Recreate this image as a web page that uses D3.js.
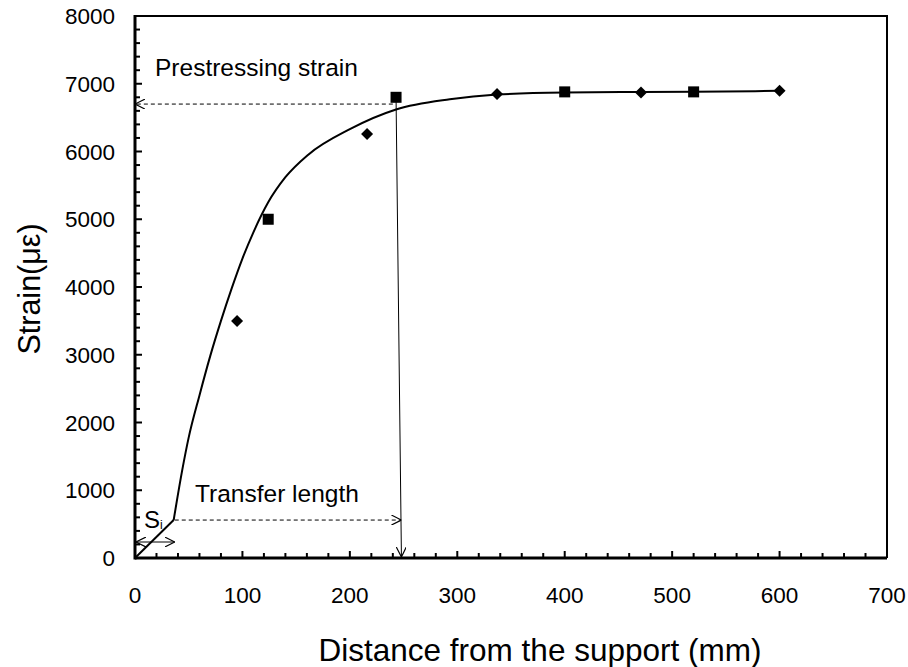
<!DOCTYPE html>
<html>
<head>
<meta charset="utf-8">
<script src="https://cdn.jsdelivr.net/npm/d3@7"></script>
<style>
  body { margin: 0; background: #fff; }
  text { font-family: "Liberation Sans", Arial, sans-serif; fill: #000; }
</style>
</head>
<body>
<div id="container"></div>
<script>
// measured points (mm, microstrain)
const diamondX = [95, 216, 337, 471, 600]
const diamondY = [3500, 6260, 6850, 6870, 6895]
const squareX = [124, 243, 400, 520]
const squareY = [5000, 6800, 6880, 6880]

// fitted strain profile (first segment is straight, rest smooth)
const curveX = [0, 36, 44, 50, 60, 70, 80, 90, 100, 110, 124, 140, 161, 200, 243, 293, 337, 400, 471, 520, 600]
const curveY = [0, 560, 1300, 1780, 2400, 2980, 3500, 3980, 4420, 4800, 5250, 5620, 5950, 6330, 6620, 6770, 6840, 6870, 6878, 6882, 6895]

// annotation values
const prestressStrain = 6700
const prestressEndX = 240
const transferLength = 248
const transferStartX = 37
const transferLevel = 560
const siLength = 37
const siLevel = 236

const xTicks = [0, 100, 200, 300, 400, 500, 600, 700]
const yTicks = [0, 1000, 2000, 3000, 4000, 5000, 6000, 7000, 8000]

const w = 908
const h = 667
const margin = { left: 135, right: 21, top: 16, bottom: 109 }

const svg = d3.select('#container')
  .append('svg')
  .attr('width', w)
  .attr('height', h)

const x = d3.scaleLinear().domain([0, 700]).range([margin.left, w - margin.right])
const y = d3.scaleLinear().domain([0, 8000]).range([h - margin.bottom, margin.top])

// open arrow head
const defs = svg.append('defs')
defs.append('marker')
  .attr('id', 'arr')
  .attr('viewBox', '0 0 10 10')
  .attr('refX', 10)
  .attr('refY', 5)
  .attr('markerWidth', 10)
  .attr('markerHeight', 10)
  .attr('markerUnits', 'userSpaceOnUse')
  .attr('orient', 'auto-start-reverse')
  .append('path')
  .attr('d', 'M0,0 L10,5 L0,10')
  .attr('fill', 'none')
  .attr('stroke', '#000')
  .attr('stroke-width', 1.2)

// frame (top/right)
svg.append('path')
  .attr('d', `M${x(0)},${y(8000)}H${x(700)}V${y(0)}`)
  .attr('fill', 'none')
  .attr('stroke', '#000')
  .attr('stroke-width', 2)

// minor + major ticks, pointing inward
const xMinor = d3.range(0, 701, 20)
svg.append('g').selectAll('line')
  .data(xMinor)
  .join('line')
  .attr('x1', d => x(d))
  .attr('x2', d => x(d))
  .attr('y1', y(0))
  .attr('y2', d => y(0) - (d % 100 === 0 ? 7 : 5))
  .attr('stroke', '#000')
  .attr('stroke-width', 2)

const yMinor = d3.range(0, 8001, 200)
svg.append('g').selectAll('line')
  .data(yMinor)
  .join('line')
  .attr('y1', d => y(d))
  .attr('y2', d => y(d))
  .attr('x1', x(0))
  .attr('x2', d => x(0) + (d % 1000 === 0 ? 7 : 5))
  .attr('stroke', '#000')
  .attr('stroke-width', 2)

// axis lines
svg.append('line')
  .attr('x1', x(0)).attr('x2', x(700))
  .attr('y1', y(0)).attr('y2', y(0))
  .attr('stroke', '#000').attr('stroke-width', 3)
svg.append('line')
  .attr('x1', x(0)).attr('x2', x(0))
  .attr('y1', y(0) + 1.5).attr('y2', y(8000) - 1)
  .attr('stroke', '#000').attr('stroke-width', 3)

// tick labels
svg.append('g').selectAll('text')
  .data(xTicks)
  .join('text')
  .attr('x', d => x(d))
  .attr('y', y(0) + 45)
  .attr('text-anchor', 'middle')
  .attr('font-size', 22.5)
  .text(d => d)

svg.append('g').selectAll('text')
  .data(yTicks)
  .join('text')
  .attr('x', x(0) - 20)
  .attr('y', d => y(d) + 8)
  .attr('text-anchor', 'end')
  .attr('font-size', 22.5)
  .text(d => d)

// axis titles
svg.append('text')
  .attr('x', 540)
  .attr('y', 661)
  .attr('text-anchor', 'middle')
  .attr('font-size', 31.5)
  .text('Distance from the support (mm)')

svg.append('text')
  .attr('transform', 'translate(40,289) rotate(-90)')
  .attr('text-anchor', 'middle')
  .attr('font-size', 30.5)
  .text('Strain(με)')

// fitted curve
const curveData = curveX.map((d, i) => [d, curveY[i]])
const line = d3.line().x(d => x(d[0])).y(d => y(d[1]))
svg.append('path')
  .datum(curveData.slice(0, 2))
  .attr('d', line)
  .attr('fill', 'none')
  .attr('stroke', '#000')
  .attr('stroke-width', 2)
svg.append('path')
  .datum(curveData.slice(1))
  .attr('d', line.curve(d3.curveMonotoneX))
  .attr('fill', 'none')
  .attr('stroke', '#000')
  .attr('stroke-width', 2)

// annotations
svg.append('line')
  .attr('x1', x(prestressEndX)).attr('x2', x(0))
  .attr('y1', y(prestressStrain)).attr('y2', y(prestressStrain))
  .attr('stroke', '#000').attr('stroke-width', 1)
  .attr('stroke-dasharray', '4,3')
  .attr('marker-end', 'url(#arr)')

svg.append('line')
  .attr('x1', x(squareX[1])).attr('x2', x(transferLength))
  .attr('y1', y(squareY[1])).attr('y2', y(0) - 1)
  .attr('stroke', '#000').attr('stroke-width', 1)
  .attr('marker-end', 'url(#arr)')

svg.append('line')
  .attr('x1', x(transferStartX)).attr('x2', x(transferLength))
  .attr('y1', y(transferLevel)).attr('y2', y(transferLevel))
  .attr('stroke', '#000').attr('stroke-width', 1)
  .attr('stroke-dasharray', '4,3')
  .attr('marker-end', 'url(#arr)')

svg.append('line')
  .attr('x1', x(0) + 1).attr('x2', x(siLength))
  .attr('y1', y(siLevel)).attr('y2', y(siLevel))
  .attr('stroke', '#000').attr('stroke-width', 1)
  .attr('marker-start', 'url(#arr)')
  .attr('marker-end', 'url(#arr)')

svg.append('text')
  .attr('x', 155).attr('y', 76)
  .attr('font-size', 24.5)
  .text('Prestressing strain')

svg.append('text')
  .attr('x', 195).attr('y', 502)
  .attr('font-size', 24.5)
  .text('Transfer length')

const si = svg.append('text')
  .attr('x', 144).attr('y', 528)
  .attr('font-size', 24)
si.append('tspan').text('S')
si.append('tspan').attr('font-size', 12).attr('dy', 1).text('i')

// markers
svg.append('g').selectAll('path')
  .data(diamondX.map((d, i) => [d, diamondY[i]]))
  .join('path')
  .attr('transform', d => `translate(${x(d[0])},${y(d[1])})`)
  .attr('d', 'M0,-6L6,0L0,6L-6,0Z')
  .attr('fill', '#000')

svg.append('g').selectAll('rect')
  .data(squareX.map((d, i) => [d, squareY[i]]))
  .join('rect')
  .attr('x', d => x(d[0]) - 5.5)
  .attr('y', d => y(d[1]) - 5.5)
  .attr('width', 11)
  .attr('height', 11)
  .attr('fill', '#000')
</script>
</body>
</html>
